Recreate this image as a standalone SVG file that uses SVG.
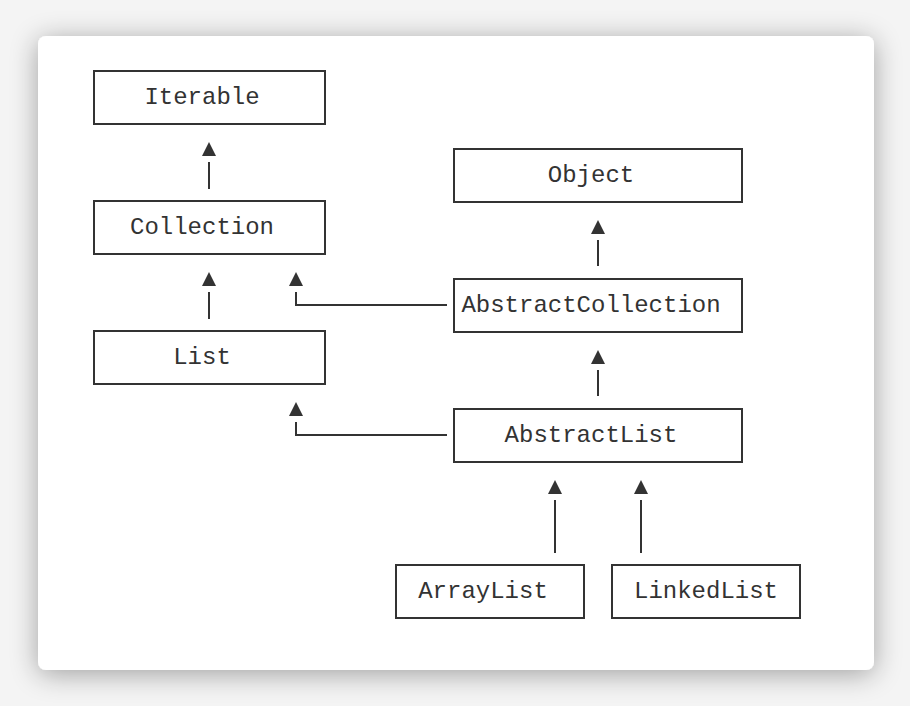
<svg xmlns="http://www.w3.org/2000/svg" width="910" height="706" viewBox="0 0 910 706">
<defs>
<filter id="sh" x="-10%" y="-10%" width="120%" height="120%">
<feGaussianBlur in="SourceAlpha" stdDeviation="14"/>
<feOffset dx="0" dy="4"/>
<feComponentTransfer><feFuncA type="linear" slope="0.35"/></feComponentTransfer>
<feMerge><feMergeNode/><feMergeNode in="SourceGraphic"/></feMerge>
</filter>
</defs>
<style>
.box{fill:#fff;stroke:#333;stroke-width:2}
.lbl{font-family:"Liberation Mono","Courier New",monospace;font-size:24px;fill:#333;text-anchor:middle}
.ln{stroke:#333;stroke-width:2;fill:none}
.ah{fill:#333}
</style>
<rect x="0" y="0" width="910" height="706" fill="#f4f4f4"/>
<rect x="38" y="36" width="836" height="634" rx="8" fill="#fff" filter="url(#sh)"/>
<g id="connectors">
<line class="ln" x1="209" y1="189" x2="209" y2="162"/>
<path class="ah" d="M209,142 L216,156 L202,156 Z"/>
<line class="ln" x1="209" y1="319" x2="209" y2="292"/>
<path class="ah" d="M209,272 L216,286 L202,286 Z"/>
<line class="ln" x1="598" y1="266" x2="598" y2="240"/>
<path class="ah" d="M598,220 L605,234 L591,234 Z"/>
<line class="ln" x1="598" y1="396" x2="598" y2="370"/>
<path class="ah" d="M598,350 L605,364 L591,364 Z"/>
<polyline class="ln" points="447,305 296,305 296,292"/>
<path class="ah" d="M296,272 L303,286 L289,286 Z"/>
<polyline class="ln" points="447,435 296,435 296,422"/>
<path class="ah" d="M296,402 L303,416 L289,416 Z"/>
<line class="ln" x1="555" y1="553" x2="555" y2="500"/>
<path class="ah" d="M555,480 L562,494 L548,494 Z"/>
<line class="ln" x1="641" y1="553" x2="641" y2="500"/>
<path class="ah" d="M641,480 L648,494 L634,494 Z"/>
</g>
<g id="iterable"><rect class="box" x="94" y="71" width="231" height="53"/><text class="lbl" x="202" y="104">Iterable</text></g>
<g id="collection"><rect class="box" x="94" y="201" width="231" height="53"/><text class="lbl" x="202" y="234">Collection</text></g>
<g id="list"><rect class="box" x="94" y="331" width="231" height="53"/><text class="lbl" x="202" y="364">List</text></g>
<g id="object"><rect class="box" x="454" y="149" width="288" height="53"/><text class="lbl" x="591" y="182">Object</text></g>
<g id="abstractcollection"><rect class="box" x="454" y="279" width="288" height="53"/><text class="lbl" x="591" y="312">AbstractCollection</text></g>
<g id="abstractlist"><rect class="box" x="454" y="409" width="288" height="53"/><text class="lbl" x="591" y="442">AbstractList</text></g>
<g id="arraylist"><rect class="box" x="396" y="565" width="188" height="53"/><text class="lbl" x="483" y="598">ArrayList</text></g>
<g id="linkedlist"><rect class="box" x="612" y="565" width="188" height="53"/><text class="lbl" x="706" y="598">LinkedList</text></g>
</svg>
